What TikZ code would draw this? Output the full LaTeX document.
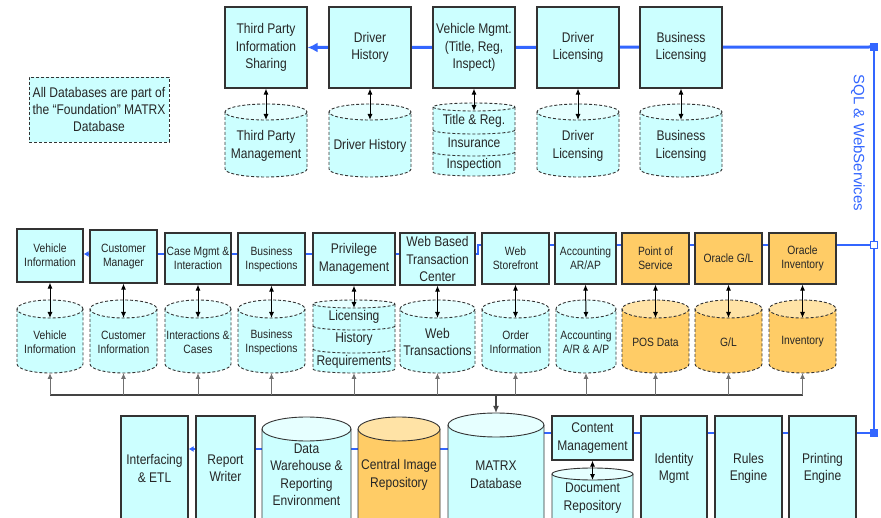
\documentclass[tikz,border=0pt]{standalone}
\usepackage{fontspec}
\setmainfont[FakeStretch=0.86]{Liberation Sans}
\newfontfamily\sqlfont{Liberation Sans}
\usetikzlibrary{arrows.meta,backgrounds}
\definecolor{boxcyan}{HTML}{CCFFFF}
\definecolor{lidcyan}{HTML}{E6FFFF}
\definecolor{boxorange}{HTML}{FFCC66}
\definecolor{lidorange}{HTML}{FFE3A6}
\definecolor{sqlblue}{HTML}{3366FF}
\definecolor{edgegray}{HTML}{333333}
\definecolor{busgray}{HTML}{444444}
\definecolor{feedgray}{HTML}{707070}

% database cylinder: name, centre x, half width, top y, bottom y, lid radius, body, lid, line style
\newcommand{\dbcyl}[9]{%
  \fill[#7] (#2-#3,#4+#6) -- (#2-#3,#5-#6) arc (180:0:#3 and #6) -- (#2+#3,#4+#6) -- cycle;
  \fill[#8] (#2,#4+#6) ellipse (#3 and #6);
  \draw[edgegray,line width=0.9pt,#9] (#2-#3,#4+#6) -- (#2-#3,#5-#6) arc (180:0:#3 and #6) -- (#2+#3,#4+#6);
  \draw[edgegray,line width=0.9pt,#9] (#2,#4+#6) ellipse (#3 and #6);
  \coordinate (#1-top) at (#2,#4+2*#6);
  \coordinate (#1-cap) at (#2,#4);
  \coordinate (#1-bot) at (#2,#5);
}
% divider inside a stacked database: centre x, half width, y, radius
\newcommand{\dbsplit}[4]{%
  \draw[edgegray,line width=0.9pt,dbdash] (#1-#2,#3) arc (180:0:#2 and #4);
}

\begin{document}
\begin{tikzpicture}[x=1pt,y=-1pt,
    dbdash/.style={dash pattern=on 3pt off 2pt},
    tbox/.style={draw=edgegray, line width=1.1pt, fill=boxcyan, align=center, inner sep=0pt,
      text=black!85, font=\fontsize{14}{17.5}\selectfont},
    sbox/.style={tbox, font=\fontsize{12}{14}\selectfont},
    notebox/.style={tbox, line width=0.9pt, dbdash},
    dbtxt/.style={align=center, inner sep=0pt, text=black!85, font=\fontsize{14}{17.5}\selectfont},
    dbsmall/.style={dbtxt, font=\fontsize{12}{14}\selectfont},
    dblink/.style={{Latex[length=6pt,width=5pt]}-{Latex[length=6pt,width=5pt]}, line width=1pt, black},
    feed/.style={-{Latex[length=6pt,width=5pt]}, line width=1pt, feedgray},
    sqlbus/.style={sqlblue, line width=3pt},
    sqmark/.style={fill=sqlblue, minimum size=8pt, inner sep=0pt},
    sqhollow/.style={draw=sqlblue, fill=white, line width=1.5pt, minimum size=7pt, inner sep=0pt}]
    \clip (0,0) rectangle (881,518);

    % note
    \node[notebox, minimum width=140pt, minimum height=65pt] (note) at (99,109.5)
      {All Databases are part of\\the “Foundation” MATRX\\Database};

    % top row
    \node[tbox, minimum width=82pt, minimum height=81pt] (tp) at (266,47.5) {Third Party\\Information\\Sharing};
    \node[tbox, minimum width=82pt, minimum height=81pt] (dh) at (370,47.5) {Driver\\History};
    \node[tbox, minimum width=82pt, minimum height=81pt] (vm) at (474,47.5) {Vehicle Mgmt.\\(Title, Reg,\\Inspect)};
    \node[tbox, minimum width=82pt, minimum height=81pt] (dl) at (578,47.5) {Driver\\Licensing};
    \node[tbox, minimum width=82pt, minimum height=81pt] (bl) at (681,47.5) {Business\\Licensing};

    \dbcyl{dbTP}{266}{41}{104}{177}{8}{boxcyan}{lidcyan}{dbdash}
    \dbcyl{dbDH}{370}{41}{104}{177}{8}{boxcyan}{lidcyan}{dbdash}
    \dbcyl{dbVM}{474}{41}{103}{176}{4}{boxcyan}{lidcyan}{dbdash}
    \dbsplit{474}{41}{130}{4}
    \dbsplit{474}{41}{152}{4}
    \dbcyl{dbDL}{578}{41}{104}{177}{8}{boxcyan}{lidcyan}{dbdash}
    \dbcyl{dbBL}{681}{41}{104}{177}{8}{boxcyan}{lidcyan}{dbdash}
    \node[dbtxt] (tTP) at (266,146) {Third Party\\Management};
    \node[dbtxt] (tDH) at (370,146) {Driver History};
    \node[dbtxt] (tVM1) at (474,120.5) {Title \& Reg.};
    \node[dbtxt] (tVM2) at (474,143) {Insurance};
    \node[dbtxt] (tVM3) at (474,165) {Inspection};
    \node[dbtxt] (tDL) at (578,146) {Driver\\Licensing};
    \node[dbtxt] (tBL) at (681,146) {Business\\Licensing};

    \draw[dblink] (tp.south) -- (dbTP-top);
    \draw[dblink] (dh.south) -- (dbDH-top);
    \draw[dblink] (vm.south) -- (dbVM-top);
    \draw[dblink] (dl.south) -- (dbDL-top);
    \draw[dblink] (bl.south) -- (dbBL-top);

    % middle row
    \node[sbox, minimum width=66pt, minimum height=53pt] (vi) at (50,255.5) {Vehicle\\Information};
    \node[sbox, minimum width=67pt, minimum height=53pt] (cm) at (123.5,256.5) {Customer\\Manager};
    \node[sbox, minimum width=66pt, minimum height=51pt] (case) at (198,258.5) {Case Mgmt \&\\Interaction};
    \node[sbox, minimum width=67pt, minimum height=52pt] (bi) at (271.5,259) {Business\\Inspections};
    \node[tbox, minimum width=82pt, minimum height=52pt] (pm) at (354,259) {Privilege\\Management};
    \node[tbox, minimum width=75pt, minimum height=52pt] (wb) at (437.5,259) {Web Based\\Transaction\\Center};
    \node[sbox, minimum width=67pt, minimum height=51pt] (ws) at (515.5,258.5) {Web\\Storefront};
    \node[sbox, minimum width=61pt, minimum height=51pt] (ac) at (585.5,258.5) {Accounting\\AR/AP};
    \node[sbox, fill=boxorange, minimum width=67pt, minimum height=51pt] (pos) at (655.5,258.5) {Point of\\Service};
    \node[sbox, fill=boxorange, minimum width=67pt, minimum height=51pt] (ogl) at (728.5,258.5) {Oracle G/L};
    \node[sbox, fill=boxorange, minimum width=67pt, minimum height=51pt] (oinv) at (802.5,258.5) {Oracle\\Inventory};

    \dbcyl{dbVI}{50}{33}{300}{373}{9}{boxcyan}{lidcyan}{dbdash}
    \dbcyl{dbCI}{123.5}{33.5}{300}{373}{9}{boxcyan}{lidcyan}{dbdash}
    \dbcyl{dbIC}{198}{33}{300}{373}{9}{boxcyan}{lidcyan}{dbdash}
    \dbcyl{dbBI}{271.5}{33.5}{300}{373}{9}{boxcyan}{lidcyan}{dbdash}
    \dbcyl{dbPM}{354}{41}{300}{373}{4}{boxcyan}{lidcyan}{dbdash}
    \dbsplit{354}{41}{326}{4}
    \dbsplit{354}{41}{349}{4}
    \dbcyl{dbWT}{437.5}{37.5}{300}{373}{9}{boxcyan}{lidcyan}{dbdash}
    \dbcyl{dbOI}{515.5}{33.5}{300}{373}{9}{boxcyan}{lidcyan}{dbdash}
    \dbcyl{dbAC}{586}{30}{300}{373}{9}{boxcyan}{lidcyan}{dbdash}
    \dbcyl{dbPOS}{655.5}{33.5}{300}{373}{9}{boxorange}{lidorange}{dbdash}
    \dbcyl{dbGL}{728.5}{33.5}{300}{373}{9}{boxorange}{lidorange}{dbdash}
    \dbcyl{dbINV}{802.5}{33.5}{300}{373}{9}{boxorange}{lidorange}{dbdash}
    \node[dbsmall] (tVI) at (50,342) {Vehicle\\Information};
    \node[dbsmall] (tCI) at (123.5,342) {Customer\\Information};
    \node[dbsmall] (tIC) at (198,342) {Interactions \&\\Cases};
    \node[dbsmall] (tBI) at (271.5,342) {Business\\Inspections};
    \node[dbtxt] (tPM1) at (354,317) {Licensing};
    \node[dbtxt] (tPM2) at (354,339) {History};
    \node[dbtxt] (tPM3) at (354,362) {Requirements};
    \node[dbtxt] (tWT) at (437.5,342) {Web\\Transactions};
    \node[dbsmall] (tOI) at (515.5,342) {Order\\Information};
    \node[dbsmall] (tAC) at (586,342) {Accounting\\A/R \& A/P};
    \node[dbsmall] (tPOS) at (655.5,342) {POS Data};
    \node[dbsmall] (tGL) at (728.5,342) {G/L};
    \node[dbsmall] (tINV) at (802.5,342) {Inventory};

    \draw[dblink] (vi.south) -- (dbVI-top);
    \draw[dblink] (cm.south) -- (dbCI-top);
    \draw[dblink] (case.south) -- (dbIC-top);
    \draw[dblink] (bi.south) -- (dbBI-top);
    \draw[dblink] (pm.south) -- (dbPM-top);
    \draw[dblink] (wb.south) -- (dbWT-top);
    \draw[dblink] (ws.south) -- (dbOI-top);
    \draw[dblink] (ac.south) -- (dbAC-top);
    \draw[dblink] (pos.south) -- (dbPOS-top);
    \draw[dblink] (ogl.south) -- (dbGL-top);
    \draw[dblink] (oinv.south) -- (dbINV-top);

    % bottom row
    \node[tbox, minimum width=67pt, minimum height=105pt] (etl) at (154.5,468.5) {Interfacing\\\& ETL};
    \node[tbox, minimum width=59pt, minimum height=105pt] (rw) at (225.5,468.5) {Report\\Writer};
    \dbcyl{dbDW}{306.5}{44.5}{417}{560}{12}{boxcyan}{lidcyan}{solid}
    \dbcyl{dbCIR}{399}{41}{417}{560}{12}{boxorange}{lidorange}{solid}
    \dbcyl{dbMX}{496}{48}{413}{560}{12}{boxcyan}{lidcyan}{solid}
    \node[tbox, minimum width=81pt, minimum height=44pt] (cms) at (592.5,438) {Content\\Management};
    \dbcyl{dbDR}{592.5}{40.5}{468}{560}{6}{boxcyan}{lidcyan}{solid}
    \node[tbox, minimum width=66pt, minimum height=105pt] (idm) at (674,468.5) {Identity\\Mgmt};
    \node[tbox, minimum width=67pt, minimum height=105pt] (rules) at (748.5,468.5) {Rules\\Engine};
    \node[tbox, minimum width=67pt, minimum height=105pt] (prn) at (822.5,468.5) {Printing\\Engine};
    \node[dbtxt] (tDW) at (306.5,475) {Data\\Warehouse \&\\Reporting\\Environment};
    \node[dbtxt] (tCIR) at (399,475) {Central Image\\Repository};
    \node[dbtxt] (tMX) at (496,475) {MATRX\\Database};
    \node[dbtxt] (tDR) at (592.5,498) {Document\\Repository};
    \draw[dblink] (cms.south) -- (dbDR-top);

    % database bus
    \coordinate (busL) at (50,395);
    \draw[busgray, line width=1.2pt] (dbVI-bot |- busL) -- (dbINV-bot |- busL);
    \draw[feed] (dbVI-bot |- busL) -- (dbVI-bot);
    \draw[feed] (dbCI-bot |- busL) -- (dbCI-bot);
    \draw[feed] (dbIC-bot |- busL) -- (dbIC-bot);
    \draw[feed] (dbBI-bot |- busL) -- (dbBI-bot);
    \draw[feed] (dbPM-bot |- busL) -- (dbPM-bot);
    \draw[feed] (dbWT-bot |- busL) -- (dbWT-bot);
    \draw[feed] (dbOI-bot |- busL) -- (dbOI-bot);
    \draw[feed] (dbAC-bot |- busL) -- (dbAC-bot);
    \draw[feed] (dbPOS-bot |- busL) -- (dbPOS-bot);
    \draw[feed] (dbGL-bot |- busL) -- (dbGL-bot);
    \draw[feed] (dbINV-bot |- busL) -- (dbINV-bot);
    \draw[-{Latex[length=7pt,width=6pt]}, line width=1.4pt, busgray] (dbMX-cap |- busL) -- (dbMX-cap);

    % SQL & web services backbone
    \coordinate (sqlA) at (874,47);
    \coordinate (sqlB) at (874,245);
    \coordinate (sqlC) at (874,433);
    \coordinate (stepB) at (478,254);
    \coordinate (stepC) at (496,449);
    \begin{scope}[on background layer]
      \draw[sqlbus, -{Latex[length=10pt,width=10pt]}] (sqlA) -- (tp.east);
      \draw[sqlbus, line width=2.5pt, -{Latex[length=5pt,width=6pt]}] (sqlB) -| (stepB) -- (vi.east |- stepB);
      \draw[sqlbus, line width=2.5pt, -{Latex[length=5pt,width=6pt]}] (sqlC) -| (stepC) -- (etl.east |- stepC);
    \end{scope}
    \draw[sqlbus, line width=2.5pt] (sqlA) -- (sqlC);
    \node[sqmark] (sqA) at (sqlA) {};
    \node[sqhollow] (sqB) at (sqlB) {};
    \node[sqmark] (sqC) at (sqlC) {};
    \node[rotate=-90, text=sqlblue, inner sep=0pt, font=\sqlfont\fontsize{15}{18}\selectfont] (sqltag) at (858,143) {SQL \& WebServices};
\end{tikzpicture}
\end{document}
